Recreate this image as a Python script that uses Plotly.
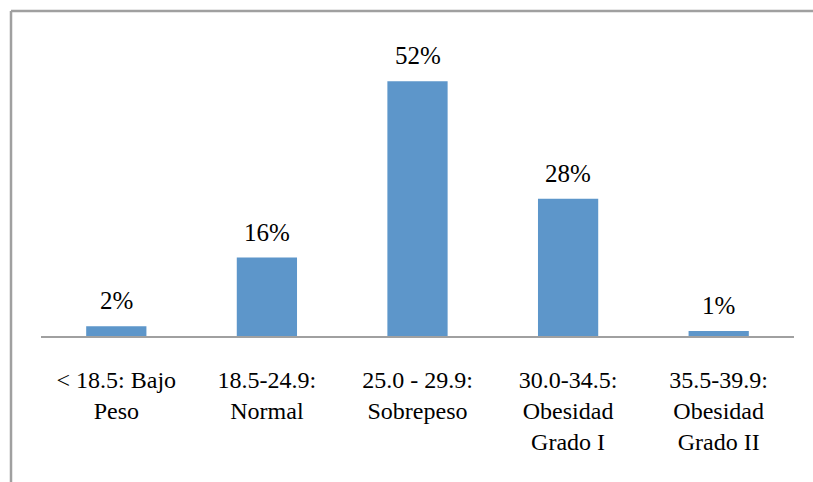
import plotly.graph_objects as go

# IMC categories and share of patients (%)
categorias = [
    "< 18.5: Bajo<br>Peso",
    "18.5-24.9:<br>Normal",
    "25.0 - 29.9:<br>Sobrepeso",
    "30.0-34.5:<br>Obesidad<br>Grado I",
    "35.5-39.9:<br>Obesidad<br>Grado II",
]
porcentajes = [2, 16, 52, 28, 1]

W, H = 813, 482
M_L, M_R, M_T, M_B = 41, 19, 42, 146
SERIF = "Liberation Serif, Times New Roman, DejaVu Serif, serif"

fig = go.Figure(
    go.Bar(
        x=categorias,
        y=porcentajes,
        marker=dict(color="#5D96CA", line=dict(width=0)),
        hoverinfo="skip",
    )
)

# value labels above each bar
for c, v in zip(categorias, porcentajes):
    fig.add_annotation(
        x=c, y=v, xref="x", yref="y",
        text=f"{v}%", showarrow=False,
        yanchor="bottom", yshift=10,
        font=dict(family=SERIF, size=25, color="black"),
    )

# outer frame (left and top edges)
pw = W - M_L - M_R
ph = H - M_T - M_B
fx = (11 - M_L) / pw
fy = (H - M_B - 11) / ph
fig.add_shape(type="line", xref="paper", yref="paper",
              x0=fx, x1=(W + 10 - M_L) / pw, y0=fy, y1=fy,
              line=dict(color="#A0A0A0", width=2.5))
fig.add_shape(type="line", xref="paper", yref="paper",
              x0=fx, x1=fx, y0=fy, y1=-(M_B + 10) / ph,
              line=dict(color="#A0A0A0", width=2.5))

fig.update_layout(
    width=W, height=H,
    margin=dict(l=M_L, r=M_R, t=M_T, b=M_B, pad=0),
    paper_bgcolor="white", plot_bgcolor="white",
    bargap=0.6,
    showlegend=False,
    font=dict(family=SERIF, size=24, color="black"),
    xaxis=dict(
        showline=True, linecolor="#A0A0A0", linewidth=2,
        ticks="outside", ticklen=21, tickcolor="rgba(0,0,0,0)",
        tickfont=dict(family=SERIF, size=24, color="black"),
        showgrid=False, zeroline=False, fixedrange=True,
    ),
    yaxis=dict(
        range=[0, 60], visible=False, showgrid=False, zeroline=False,
        fixedrange=True,
    ),
)

fig.write_html("out.html")
